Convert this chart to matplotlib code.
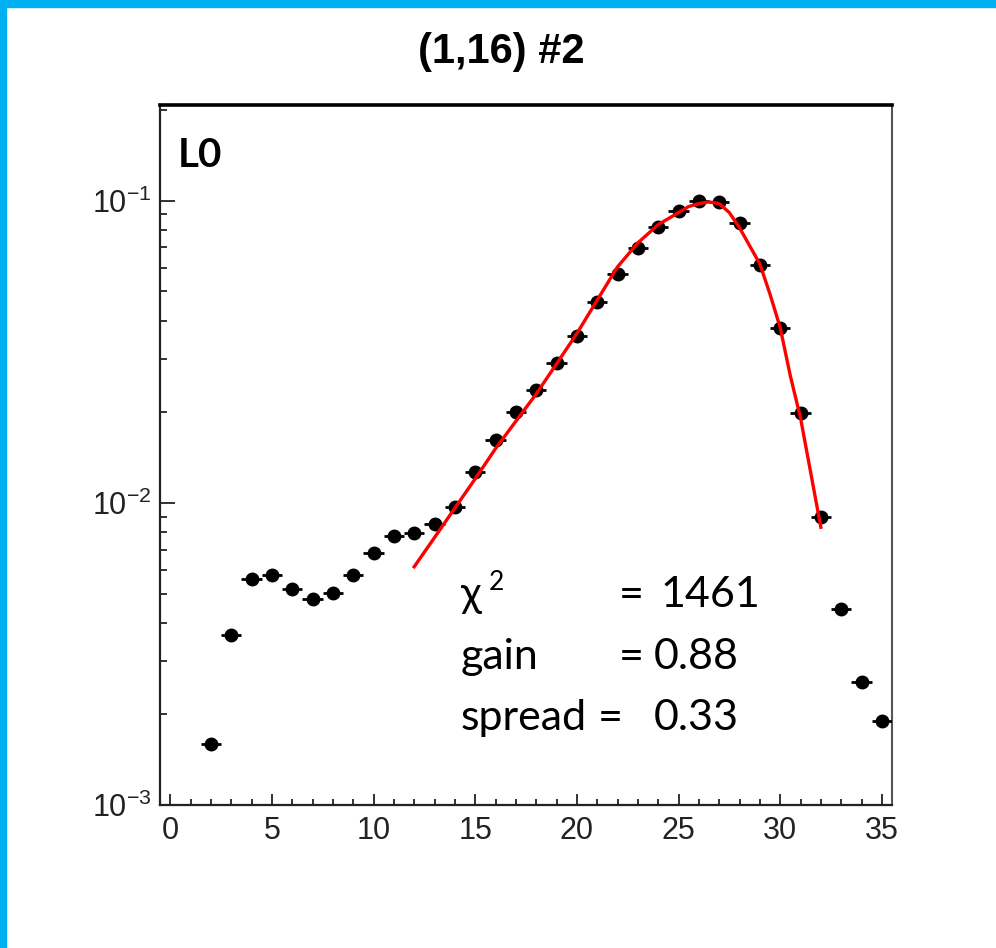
import numpy as np
import matplotlib
matplotlib.use("Agg")
import matplotlib.pyplot as plt
from matplotlib.patches import Rectangle
from matplotlib.ticker import MultipleLocator, LogLocator, NullFormatter

plt.rcParams["font.family"] = ["Liberation Sans", "DejaVu Sans"]
plt.rcParams["mathtext.default"] = "regular"

# histogram bins (bin centre, fraction)
bin_x = np.arange(2, 36)
bin_y = [0.00159, 0.00366, 0.0056, 0.00578, 0.00519, 0.00481, 0.00504, 0.00578,
         0.00683, 0.00778, 0.00796, 0.00851, 0.0097, 0.01267, 0.01617, 0.0200,
         0.02366, 0.0291, 0.0357, 0.0463, 0.0573, 0.0699, 0.082, 0.092, 0.100,
         0.099, 0.084, 0.0614, 0.0379, 0.01986, 0.00899, 0.00446, 0.00255, 0.0019]

# fit curve
fit_x = [12, 13, 14, 15, 16, 17, 18, 19, 20, 21, 22, 23, 23.5, 24, 24.5, 25, 25.5,
         26, 26.5, 27, 27.5, 28, 28.5, 29, 29.5, 30, 30.5, 31, 31.5, 32]
fit_y = [0.00614, 0.00767, 0.0096, 0.0120, 0.0151, 0.0186, 0.0229, 0.0288, 0.0363,
         0.0468, 0.0603, 0.0724, 0.0776, 0.0832, 0.0871, 0.0912, 0.0955, 0.0977,
         0.0989, 0.0977, 0.0912, 0.0813, 0.0708, 0.0617, 0.0490, 0.0380, 0.0263,
         0.0191, 0.0126, 0.0083]

title = "(1,16) #2"
layer = "L0"
stat_names = ["χ", "gain", "spread"]
stat_values = ["1461", "0.88", "0.33"]

W, H = 996, 948
fig = plt.figure(figsize=(W / 100, H / 100), dpi=100)
fig.patch.set_facecolor("white")

# blue slide border
blue = "#00B0F0"
fig.patches.append(Rectangle((0, 0), 6 / W, 1, transform=fig.transFigure, color=blue, zorder=0))
fig.patches.append(Rectangle((0, 1 - 7 / H), 1, 7 / H, transform=fig.transFigure, color=blue, zorder=0))

ax = fig.add_axes([160 / W, 1 - 805 / H, 732 / W, 700 / H])
ax.set_yscale("log")
ax.set_xlim(-0.5, 35.5)
ax.set_ylim(1e-3, 0.207)

ax.errorbar(bin_x, bin_y, xerr=0.5, fmt="o", color="black", ms=9,
            elinewidth=2, capsize=0, zorder=3)
ax.plot(fit_x, fit_y, color="red", lw=2.4, zorder=4)

ax.xaxis.set_major_locator(MultipleLocator(5))
ax.xaxis.set_minor_locator(MultipleLocator(1))
ax.yaxis.set_major_locator(LogLocator(base=10))
ax.yaxis.set_minor_locator(LogLocator(base=10, subs=np.arange(2, 10)))
ax.yaxis.set_minor_formatter(NullFormatter())

ax.tick_params(axis="both", which="both", direction="in", top=False, right=False,
               labelcolor="#222222", color="#222222", width=1.3)
ax.tick_params(axis="x", which="major", length=8, pad=8, labelsize=22)
ax.tick_params(axis="x", which="minor", length=4)
ax.tick_params(axis="y", which="major", length=11, pad=6, labelsize=22)
ax.tick_params(axis="y", which="minor", length=5)

for side in ["left", "bottom"]:
    ax.spines[side].set_linewidth(1.6)
    ax.spines[side].set_color("#222222")
ax.spines["top"].set_linewidth(2.6)
ax.spines["top"].set_color("black")
ax.spines["right"].set_linewidth(1.5)
ax.spines["right"].set_color("#555555")

fig.text(501 / W, 1 - 52 / H, title, ha="center", va="center",
         fontsize=30, fontweight="bold")
fig.text(178 / W, 1 - 167 / H, layer, ha="left", va="baseline",
         fontsize=29, fontweight="bold", family=["Lato", "DejaVu Sans"])

stat_font = ["Lato", "DejaVu Sans"]
baselines = [607, 669, 730]
eq_x = [619, 619, 598]
val_x = [660, 654, 654]
for name, val, yb, ex, vx in zip(stat_names, stat_values, baselines, eq_x, val_x):
    fig.text(461 / W, 1 - yb / H, name, ha="left", va="baseline",
             fontsize=31, family=stat_font)
    fig.text(ex / W, 1 - yb / H, "=", ha="left", va="baseline",
             fontsize=31, family=stat_font)
    fig.text(vx / W, 1 - yb / H, val, ha="left", va="baseline",
             fontsize=31, family=stat_font)
# superscript of chi
fig.text(489 / W, 1 - 590 / H, "2", ha="left", va="baseline",
         fontsize=19, family=stat_font)

fig.savefig("out.png", dpi=100)
